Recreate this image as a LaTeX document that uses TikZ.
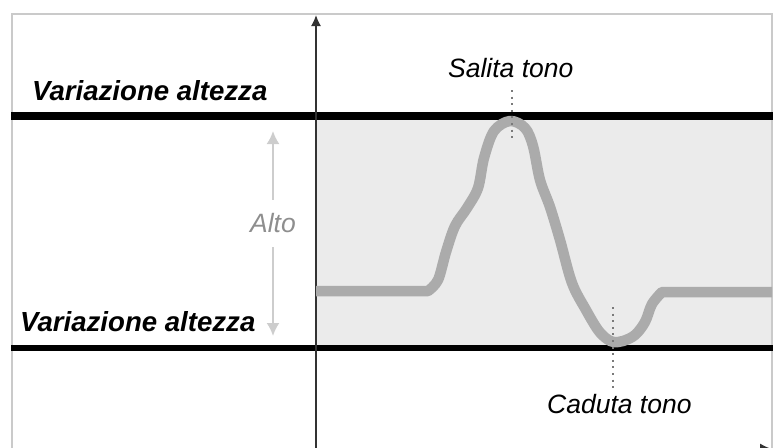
\documentclass[tikz,border=0pt]{standalone}
\usepackage{fontspec}
\setmainfont{Liberation Sans}
\usetikzlibrary{arrows.meta,calc}
\definecolor{shadecol}{HTML}{EBEBEB}
\definecolor{framecol}{HTML}{CACACA}
\definecolor{curvecol}{HTML}{ABABAB}
\definecolor{axiscol}{HTML}{333333}
\definecolor{dotcol}{HTML}{7A7A7A}
\definecolor{altocol}{HTML}{CDCDCD}
\definecolor{altotext}{HTML}{8E8E8E}
\begin{document}
\begin{tikzpicture}[x=1pt,y=-1pt,
  lbl/.style={font=\fontsize{26.5}{30}\selectfont\itshape, inner sep=0pt, anchor=base west, text=black},
  boldlbl/.style={lbl, font=\fontsize{27.6}{30}\selectfont\bfseries\itshape},
  altolbl/.style={font=\fontsize{26.5}{30}\selectfont\itshape, text=altotext, inner sep=0pt, minimum height=47pt},
  axisline/.style={draw=axiscol, line width=1.6pt, -{Latex[length=11pt,width=10pt]}},
  levelline/.style={draw=black},
  pitch/.style={draw=curvecol, line width=10.5pt, line join=round},
  dotline/.style={draw=dotcol, line width=2pt, dash pattern=on 2pt off 4.6pt},
  altoarrow/.style={draw=altocol, line width=2pt, -{Latex[length=13pt,width=13pt]}}
]
\useasboundingbox (0,0) rectangle (776,447);
\clip (0,0) rectangle (776,447);
% shaded band
\fill[shadecol] (316,116) rectangle (772,347);
% frame
\draw[framecol, line width=2pt] (12,14) rectangle (772,480);
% level lines
\draw[levelline, line width=8pt] (11,116) -- (773,116);
\draw[levelline, line width=6pt] (11,347.5) -- (773,347.5);
% axes
\coordinate (ybot) at (316,480);
\coordinate (ytip) at (316,15);
\coordinate (origin) at (316,450);
\coordinate (xtip) at (775,450);
\draw[axisline] (ybot) -- (ytip);
\draw[axisline, -{Latex[length=15pt,width=13pt]}] (origin) -- (xtip);
% pitch curve
\draw[pitch] (316,291) -- plot[smooth, tension=0.55] coordinates {
  (428,291) (438,280) (446,252) (455,226) (467,208) (478,188) (484,158)
  (494,131) (510,121) (525,128) (533,146) (540,180) (550,207) (560,240)
  (572,283) (586,310) (598,330) (607,339) (614,342) (623,341) (635,335)
  (645,322) (652,304) (662,292)} -- (772,292);
% labels
\node[boldlbl] (var1) at (32,100) {Variazione altezza};
\node[boldlbl] (var2) at (20,331) {Variazione altezza};
\node[lbl] (salita) at (448,77) {Salita tono};
\node[lbl] (caduta) at (547,413) {Caduta tono};
\node[altolbl] (alto) at (273,223.5) {Alto};
% alto arrows
\coordinate (altotop) at (273,131);
\coordinate (altobot) at (273,336);
\draw[altoarrow] (alto.north) -- (altotop);
\draw[altoarrow] (alto.south) -- (altobot);
% dotted markers
\coordinate (peak) at (512,142);
\coordinate (trough) at (613,307);
\draw[dotline] ($(salita.base -| peak)+(0,13)$) -- (peak);
\draw[dotline] (trough) -- ($(caduta.north -| trough)+(0,-6)$);
\end{tikzpicture}
\end{document}
